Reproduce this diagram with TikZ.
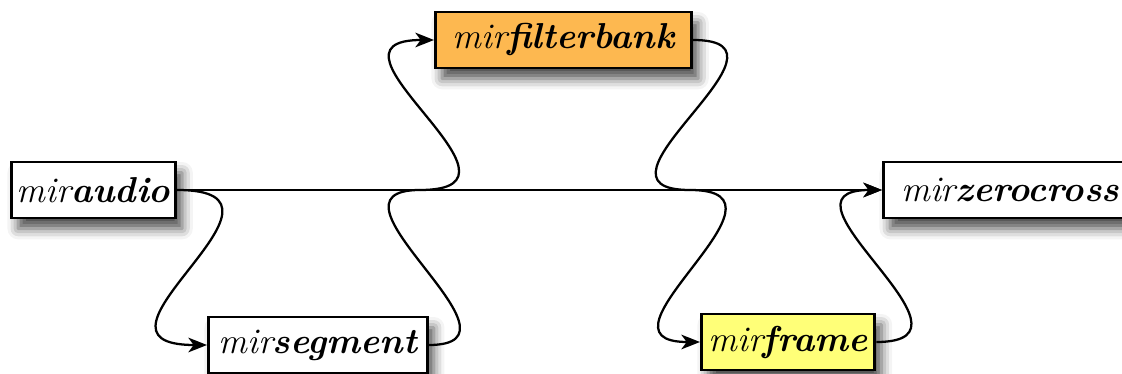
\documentclass[tikz,border=0pt]{standalone}
\usepackage{tikz}
\usetikzlibrary{arrows.meta, shadows.blur}
\definecolor{bankorange}{RGB}{253,184,80}
\definecolor{frameyellow}{RGB}{255,255,120}

\newcommand{\mirname}[1]{{\itshape mir}{\bfseries\itshape #1}}

\begin{document}
\begin{tikzpicture}[
  x=0.75pt, y=-0.75pt,
  mirbox/.style={rectangle, draw, line width=2.2pt, fill=white, anchor=west, minimum height=42pt,
    inner xsep=2pt, font=\fontsize{27}{31}\selectfont,
    blur shadow={shadow xshift=5pt, shadow yshift=-8pt, shadow blur radius=8pt, shadow opacity=70}},
  flow/.style={line width=1.7pt, -{Stealth[length=14pt, width=11pt, inset=4pt]}},
  bypass/.style={line width=1.7pt},
]
\useasboundingbox (0,0) rectangle (1122,374);

% Modules
\node[mirbox, minimum width=123pt] (audio) at (10,190) {\mirname{audio}};
\node[mirbox, minimum width=192pt, fill=bankorange] (filterbank) at (434,40) {\mirname{filterbank}};
\node[mirbox, minimum width=164pt] (segment) at (207,345) {\mirname{segment}};
\node[mirbox, minimum width=130pt, fill=frameyellow] (frame) at (700,342) {\mirname{frame}};
\node[mirbox, minimum width=190pt] (zerocross) at (882,190) {\mirname{zerocross}};

% Junctions on the main line
\coordinate (join1) at (420,190);
\coordinate (join2) at (690,190);

% Main line
\draw[flow] (audio.east) -- (zerocross.west);

% Optional steps
\draw[flow] (audio.east) .. controls +(145,0) and +(-145,0) .. (segment.west);
\draw[bypass] (segment.east) .. controls +(112,0) and +(-112,0) .. (join1);
\draw[flow] (join1) .. controls +(130,0) and +(-130,0) .. (filterbank.west);
\draw[bypass] (filterbank.east) .. controls +(120,0) and +(-120,0) .. (join2);
\draw[flow] (join2) .. controls +(120,0) and +(-120,0) .. (frame.west);
\draw[flow] (frame.east) .. controls +(120,0) and +(-120,0) .. (zerocross.west);

\end{tikzpicture}
\end{document}
